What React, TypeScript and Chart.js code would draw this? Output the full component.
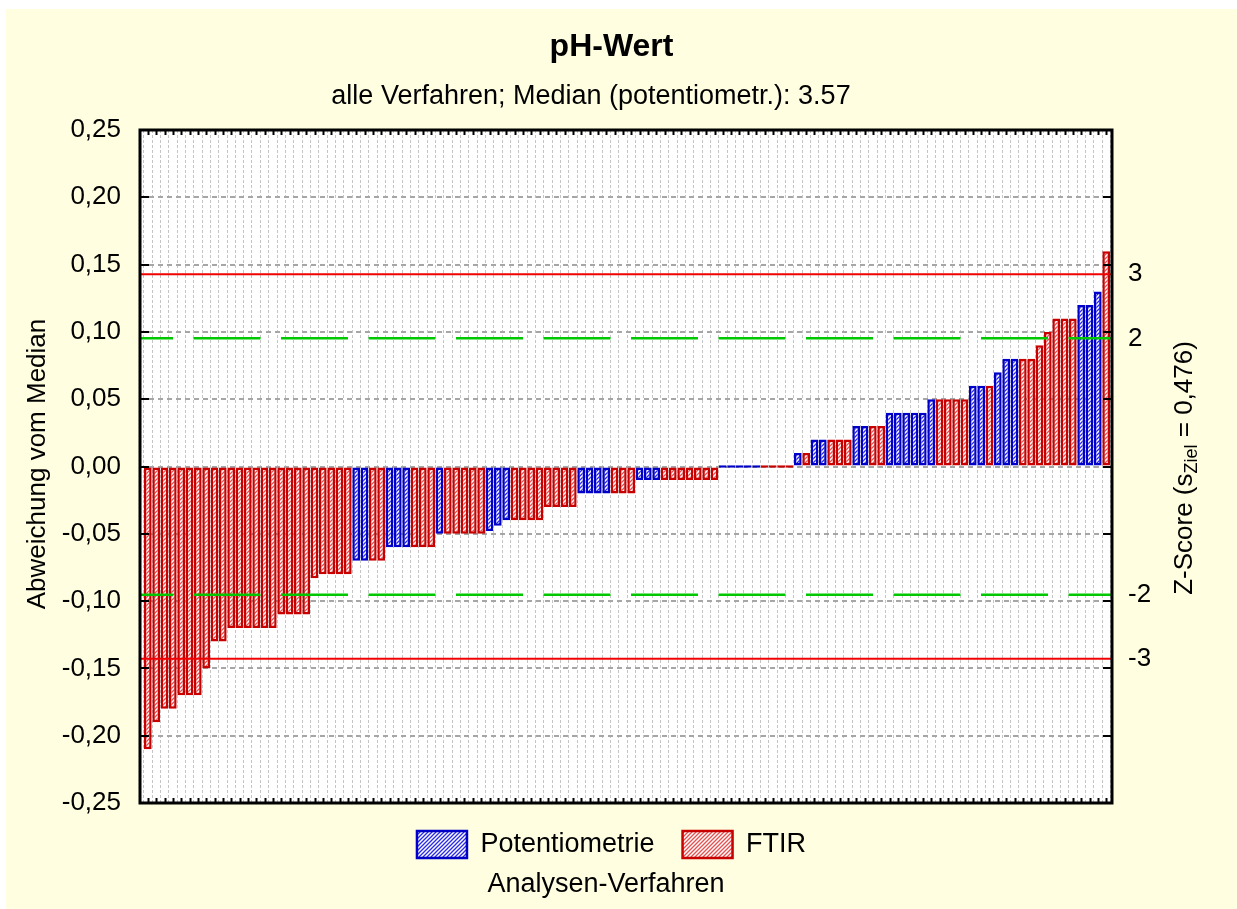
import React, { useEffect, useRef } from 'react';
import { Chart, registerables } from 'chart.js';

Chart.register(...registerables);

// ---- data ----
const deviations: number[] = [
  -0.21, -0.19, -0.18, -0.18, -0.17, -0.17, -0.17, -0.15, -0.13, -0.13,
  -0.12, -0.12, -0.12, -0.12, -0.12, -0.12, -0.11, -0.11, -0.11, -0.11,
  -0.083, -0.08, -0.08, -0.08, -0.08, -0.07, -0.07, -0.07, -0.07, -0.06,
  -0.06, -0.06, -0.06, -0.06, -0.06, -0.05, -0.05, -0.05, -0.05, -0.05,
  -0.05, -0.048, -0.044, -0.04, -0.04, -0.04, -0.04, -0.04, -0.03, -0.03,
  -0.03, -0.03, -0.02, -0.02, -0.02, -0.02, -0.02, -0.02, -0.02, -0.01,
  -0.01, -0.01, -0.01, -0.01, -0.01, -0.01, -0.01, -0.01, -0.01, 0,
  0, 0, 0, 0, 0, 0, 0, 0, 0.01, 0.01,
  0.02, 0.02, 0.02, 0.02, 0.02, 0.03, 0.03, 0.03, 0.03, 0.04,
  0.04, 0.04, 0.04, 0.04, 0.05, 0.05, 0.05, 0.05, 0.05, 0.06,
  0.06, 0.06, 0.07, 0.08, 0.08, 0.08, 0.08, 0.09, 0.10, 0.11,
  0.11, 0.11, 0.12, 0.12, 0.13, 0.16,
];

// P = Potentiometrie, F = FTIR
const methods: string[] = [
  'F', 'F', 'F', 'F', 'F', 'F', 'F', 'F', 'F', 'F',
  'F', 'F', 'F', 'F', 'F', 'F', 'F', 'F', 'F', 'F',
  'F', 'F', 'F', 'F', 'F', 'P', 'P', 'F', 'F', 'P',
  'P', 'P', 'F', 'F', 'F', 'P', 'F', 'F', 'F', 'F',
  'F', 'P', 'P', 'P', 'F', 'F', 'F', 'F', 'F', 'F',
  'F', 'F', 'P', 'P', 'P', 'P', 'F', 'F', 'F', 'P',
  'P', 'P', 'F', 'F', 'F', 'F', 'F', 'F', 'F', 'P',
  'P', 'P', 'P', 'P', 'F', 'F', 'F', 'F', 'P', 'F',
  'P', 'P', 'F', 'F', 'F', 'P', 'P', 'F', 'F', 'P',
  'P', 'P', 'P', 'P', 'P', 'F', 'F', 'F', 'F', 'P',
  'P', 'F', 'P', 'P', 'P', 'F', 'F', 'F', 'F', 'F',
  'F', 'F', 'P', 'P', 'P', 'F',
];

const seriesCodes = ['P', 'F'];
const seriesNames = ['Potentiometrie', 'FTIR'];

const yMin = -0.25;
const yMax = 0.25;
const yStep = 0.05;

const zielSigma = 0.0476;
const zLevels = [3, 2, -2, -3];
const zLabels = ['3', '2', '-2', '-3'];

const titleText = 'pH-Wert';
const subtitleText = 'alle Verfahren; Median (potentiometr.): 3.57';
const yTitle = 'Abweichung vom Median';
const xTitle = 'Analysen-Verfahren';

const FONT = "'Liberation Sans', Arial, Helvetica, sans-serif";

function hatch(color: string): CanvasPattern | string {
  const c = document.createElement('canvas');
  c.width = 4;
  c.height = 4;
  const g = c.getContext('2d');
  if (!g) return color;
  g.fillStyle = '#ffffff';
  g.fillRect(0, 0, 4, 4);
  g.strokeStyle = color;
  g.lineWidth = 1.3;
  g.beginPath();
  g.moveTo(-1, 5);
  g.lineTo(5, -1);
  g.moveTo(-1, 1);
  g.lineTo(1, -1);
  g.moveTo(3, 5);
  g.lineTo(5, 3);
  g.stroke();
  return g.createPattern(c, 'repeat') || color;
}

export default function App() {
  const ref = useRef<HTMLCanvasElement>(null);

  useEffect(() => {
    const canvas = ref.current;
    if (!canvas) return;

    const fills: Record<string, any> = { P: hatch('#2a2ae6'), F: hatch('#e45050') };
    const borders: Record<string, string> = { P: '#0000c8', F: '#c80000' };

    const datasets = seriesCodes.map((code, k) => ({
      label: seriesNames[k],
      data: deviations
        .map((v, i) => ({ x: i, y: v }))
        .filter((_, i) => methods[i] === code),
      backgroundColor: fills[code],
      borderColor: borders[code],
      borderWidth: 2.5,
      borderSkipped: false,
      grouped: false,
      barPercentage: 0.92,
      categoryPercentage: 1,
      minBarLength: 2.5,
    }));

    const bgPlugin = {
      id: 'bgPlugin',
      beforeDraw(chart: any) {
        const { ctx, chartArea: a, width, height } = chart;
        ctx.save();
        ctx.fillStyle = '#ffffff';
        ctx.fillRect(0, 0, width, height);
        ctx.fillStyle = '#FFFEE0';
        ctx.fillRect(6, 9, width - 6, height - 9);
        ctx.fillStyle = '#ffffff';
        ctx.fillRect(a.left, a.top, a.right - a.left, a.bottom - a.top);
        ctx.restore();
      },
    };

    const overlayPlugin = {
      id: 'overlayPlugin',
      afterDatasetsDraw(chart: any) {
        const { ctx, chartArea: a, scales } = chart;
        const xs = scales.x;
        const ys = scales.y;
        ctx.save();

        // Z-score reference lines
        zLevels.forEach((z) => {
          const py = ys.getPixelForValue(z * zielSigma);
          ctx.beginPath();
          if (Math.abs(z) === 3) {
            ctx.strokeStyle = '#f00000';
            ctx.lineWidth = 2;
            ctx.setLineDash([]);
          } else {
            ctx.strokeStyle = '#00c800';
            ctx.lineWidth = 2.5;
            ctx.setLineDash([67, 20.5]);
            ctx.lineDashOffset = 34;
          }
          ctx.moveTo(a.left, py);
          ctx.lineTo(a.right, py);
          ctx.stroke();
        });
        ctx.setLineDash([]);
        ctx.lineDashOffset = 0;

        // inward tick marks
        ctx.strokeStyle = '#000000';
        ctx.lineWidth = 2;
        ctx.beginPath();
        xs.ticks.forEach((t: any) => {
          const px = Math.round(xs.getPixelForValue(t.value)) + 0.5;
          ctx.moveTo(px, a.top);
          ctx.lineTo(px, a.top + 5);
          ctx.moveTo(px, a.bottom);
          ctx.lineTo(px, a.bottom - 5);
        });
        ys.ticks.forEach((t: any) => {
          const py = Math.round(ys.getPixelForValue(t.value));
          ctx.moveTo(a.left, py);
          ctx.lineTo(a.left + 9, py);
          ctx.moveTo(a.right, py);
          ctx.lineTo(a.right - 9, py);
        });
        ctx.stroke();

        // frame
        ctx.lineWidth = 3;
        ctx.strokeRect(a.left, a.top, a.right - a.left, a.bottom - a.top);

        ctx.fillStyle = '#000000';
        ctx.textAlign = 'center';
        ctx.textBaseline = 'middle';

        // subtitle
        ctx.font = `27px ${FONT}`;
        ctx.fillText(subtitleText, 591, 97);

        // left axis title
        ctx.font = `26px ${FONT}`;
        ctx.save();
        ctx.translate(38, 464);
        ctx.rotate(-Math.PI / 2);
        ctx.fillText(yTitle, 0, 0);
        ctx.restore();

        // right title with subscript
        const partA = 'Z-Score (s';
        const partSub = 'Ziel';
        const partB = ' = 0,476)';
        ctx.save();
        ctx.translate(1185, 468);
        ctx.rotate(-Math.PI / 2);
        ctx.textAlign = 'left';
        ctx.font = `26px ${FONT}`;
        const wA = ctx.measureText(partA).width;
        const wB = ctx.measureText(partB).width;
        ctx.font = `18px ${FONT}`;
        const wS = ctx.measureText(partSub).width;
        const start = -(wA + wS + wB) / 2;
        ctx.font = `26px ${FONT}`;
        ctx.fillText(partA, start, 0);
        ctx.font = `18px ${FONT}`;
        ctx.fillText(partSub, start + wA, 7);
        ctx.font = `26px ${FONT}`;
        ctx.fillText(partB, start + wA + wS, 0);
        ctx.restore();

        // bottom caption
        ctx.font = `27px ${FONT}`;
        ctx.textAlign = 'center';
        ctx.fillText(xTitle, 606, 885);

        ctx.restore();
      },
    };

    const chart = new Chart(canvas, {
      type: 'bar',
      data: { datasets: datasets as any },
      options: {
        responsive: false,
        animation: false,
        devicePixelRatio: 1,
        layout: { padding: { top: 0, left: 0, right: 14, bottom: 41 } },
        plugins: {
          title: {
            display: true,
            text: titleText,
            color: '#000',
            font: { family: FONT, size: 32, weight: 'bold' },
            padding: { top: 28, bottom: 63.6 },
          },
          subtitle: { display: false },
          legend: {
            display: true,
            position: 'bottom',
            labels: {
              boxWidth: 50,
              boxHeight: 27,
              padding: 28,
              color: '#000',
              font: { family: FONT, size: 27 },
            },
          },
          tooltip: { enabled: false },
        },
        scales: {
          x: {
            type: 'linear',
            min: -0.94,
            max: 115.7,
            offset: false,
            afterBuildTicks: (s: any) => {
              s.ticks = deviations.map((_, i) => ({ value: i }));
            },
            afterFit: (s: any) => {
              s.height = 0;
            },
            ticks: { display: false },
            grid: { color: '#c4c4c4', lineWidth: 1, drawTicks: false },
            border: { display: false, dash: [3, 2] },
          },
          y: {
            type: 'linear',
            position: 'left',
            min: yMin,
            max: yMax,
            afterFit: (s: any) => {
              s.width = 140;
            },
            ticks: {
              stepSize: yStep,
              padding: 19,
              color: '#000',
              font: { family: FONT, size: 26 },
              callback: (v: any) => Number(v).toFixed(2).replace('.', ','),
            },
            grid: { color: '#a6a6a6', lineWidth: 2, drawTicks: false },
            border: { display: false, dash: [5, 4] },
          },
          y2: {
            type: 'linear',
            position: 'right',
            min: yMin,
            max: yMax,
            afterBuildTicks: (s: any) => {
              s.ticks = zLevels.map((z) => ({ value: z * zielSigma }));
            },
            afterFit: (s: any) => {
              s.width = 111;
            },
            ticks: {
              padding: 16,
              color: '#000',
              font: { family: FONT, size: 26 },
              callback: (_v: any, i: number) => zLabels[i],
            },
            grid: { display: false, drawTicks: false },
            border: { display: false },
          },
        },
      } as any,
      plugins: [bgPlugin, overlayPlugin],
    });

    return () => chart.destroy();
  }, []);

  return (
    <div style={{ position: 'fixed', left: 0, top: 0, width: 1237, height: 909 }}>
      <canvas ref={ref} width={1237} height={909} style={{ display: 'block' }} />
    </div>
  );
}
